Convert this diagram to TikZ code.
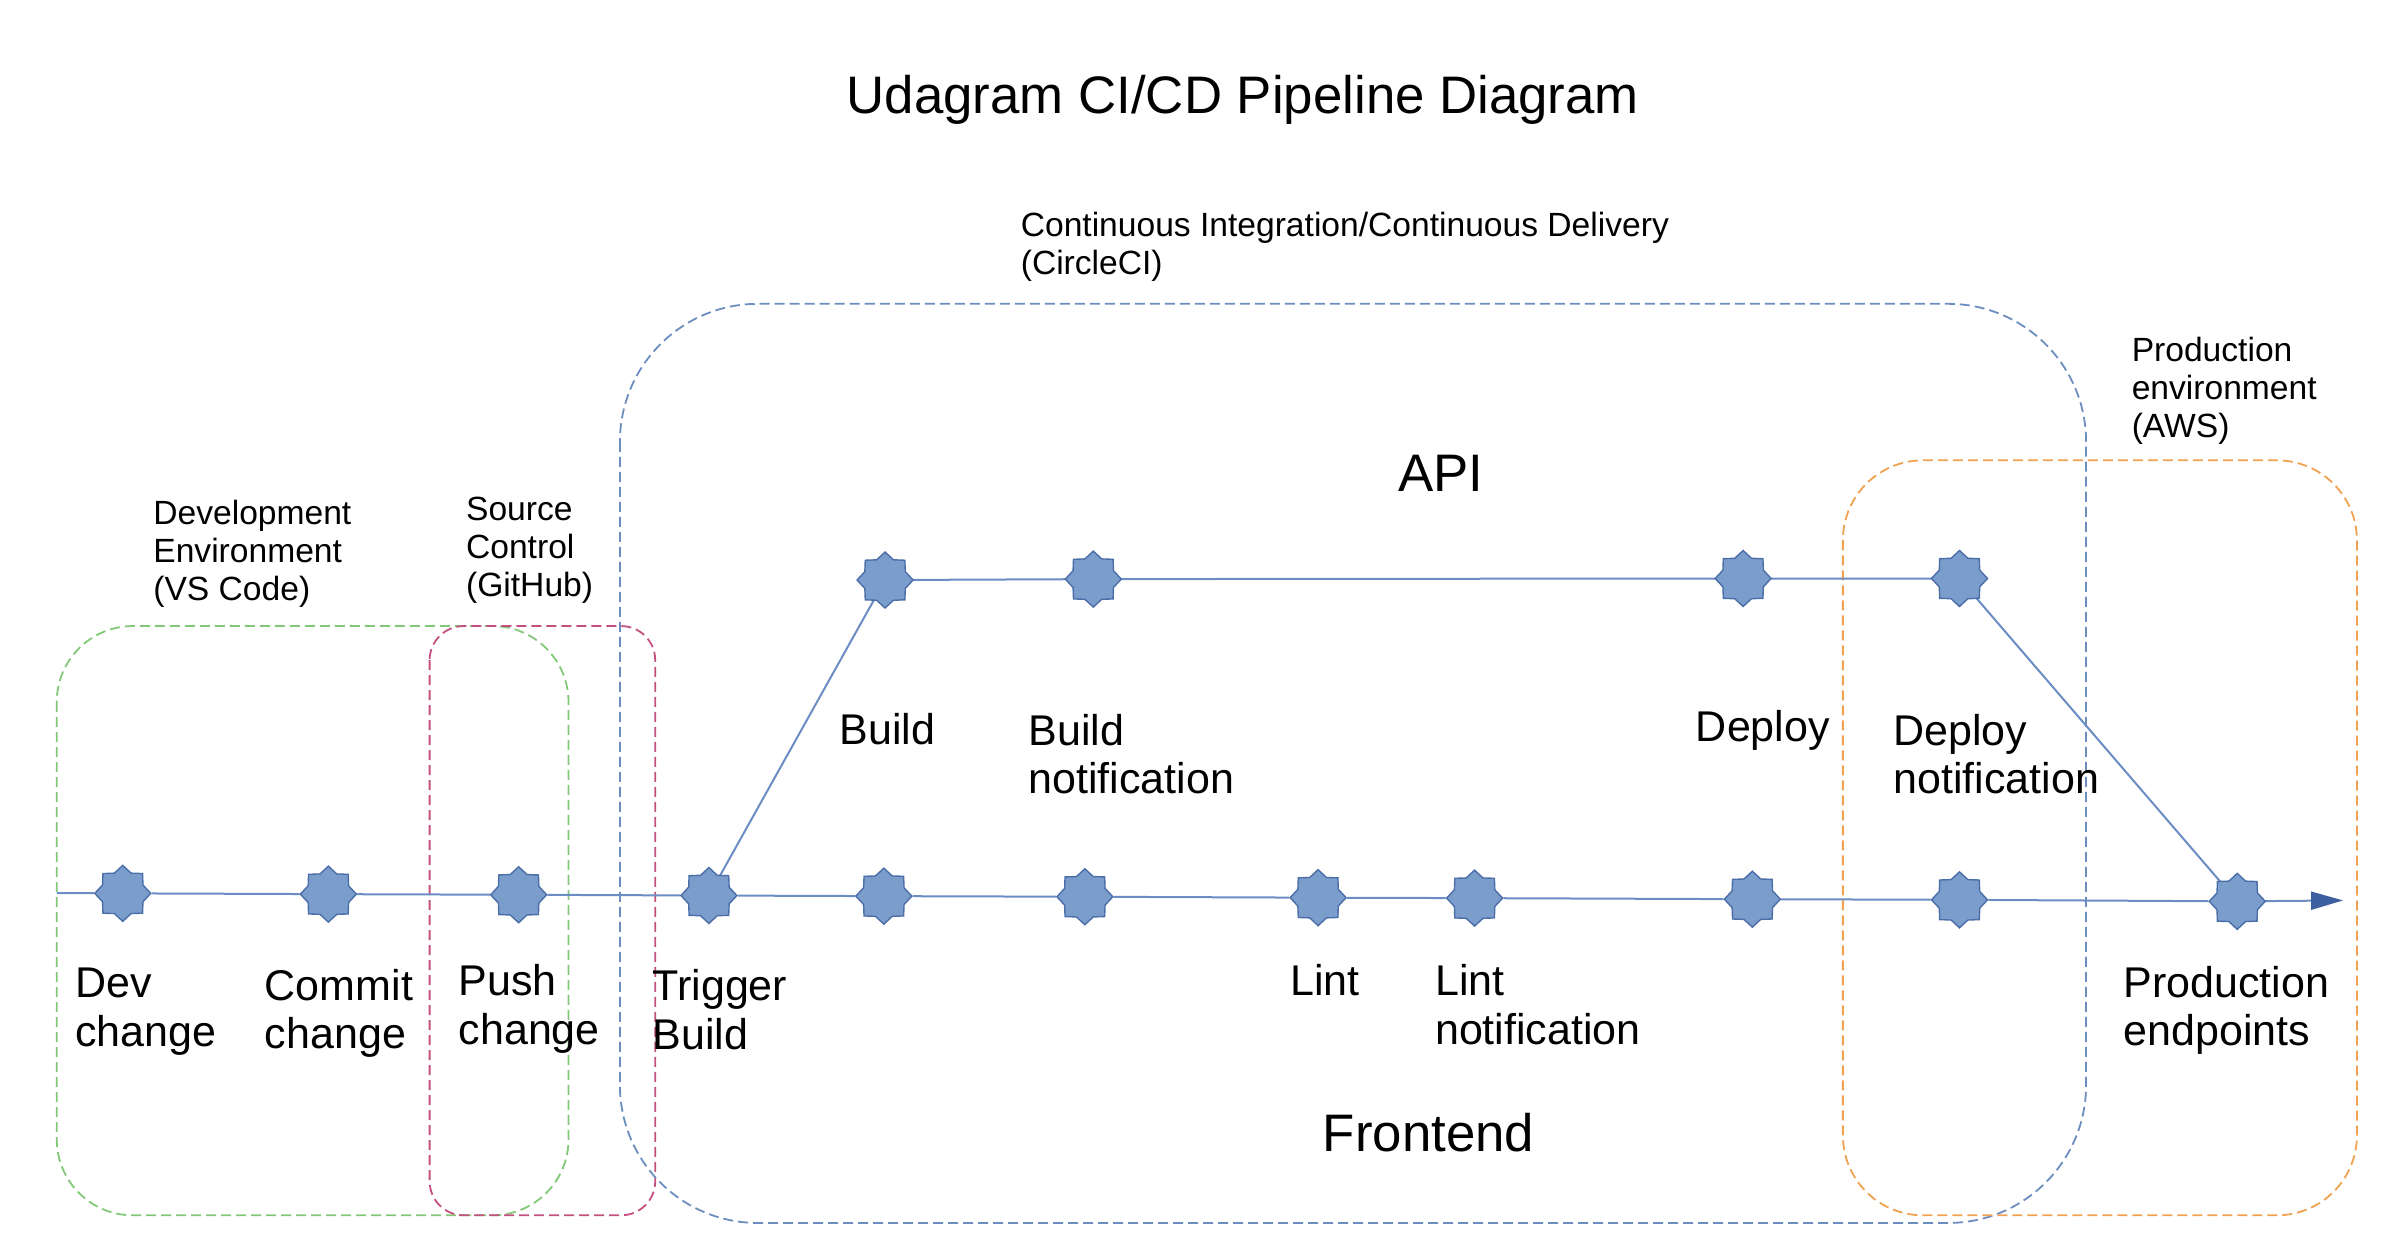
\documentclass[tikz,border=0pt]{standalone}
\usepackage{fontspec}
\setmainfont{Liberation Sans}
\usetikzlibrary{shapes.geometric,arrows.meta,backgrounds}
\definecolor{starfill}{RGB}{122,157,204}
\definecolor{starline}{RGB}{76,110,168}
\definecolor{linkblue}{RGB}{108,140,196}
\definecolor{arrowblue}{RGB}{62,96,160}
\definecolor{devgreen}{RGB}{130,200,120}
\definecolor{srcpink}{RGB}{196,80,128}
\definecolor{ciblue}{RGB}{108,142,191}
\definecolor{awsorange}{RGB}{240,162,80}
\begin{document}
\begin{tikzpicture}[x=0.7672pt,y=-0.7672pt,
  stage/.style={star,star points=8,star point ratio=1.28,minimum size=28pt,inner sep=0pt,fill=starfill,draw=starline,line width=0.7pt},
  lab/.style={font=\fontsize{21.5}{24.3}\selectfont,align=left,inner sep=0pt,anchor=base west},
  grp/.style={font=\fontsize{16.8}{19}\selectfont,align=left,inner sep=0pt,anchor=base west},
  head/.style={font=\fontsize{26.4}{30}\selectfont,inner sep=0pt,anchor=base},
  link/.style={draw=linkblue,line width=1pt},
  zone/.style={dash pattern=on 5pt off 2.5pt,line width=0.9pt}]

\useasboundingbox (0,0) rectangle (1568,821);

% titles and group labels (base = baseline of last line)
\node[head] (title) at (810,74) {Udagram CI/CD Pipeline Diagram};
\node[head] (api) at (939,320.4) {API};
\node[head] (frontend) at (931,750.6) {Frontend};
\node[grp] (cilabel) at (665,178.6) {Continuous Integration/Continuous Delivery\\(CircleCI)};
\node[grp] (awslabel) at (1389,285.2) {Production\\environment\\(AWS)};
\node[grp] (devlabel) at (99.7,391.5) {Development\\Environment\\(VS Code)};
\node[grp] (srclabel) at (303.5,389) {Source\\Control\\(GitHub)};

% main line stages
\coordinate (start) at (37,582);
\node[stage] (dev) at (80,582.2) {};
\node[stage] (commit) at (214,582.7) {};
\node[stage] (push) at (338,583.1) {};
\node[stage] (trigger) at (462,583.6) {};
\node[stage] (fbuild) at (576,584) {};
\node[stage] (fbuildn) at (707,584.4) {};
\node[stage] (lint) at (859,585) {};
\node[stage] (lintn) at (961,585.3) {};
\node[stage] (fdeploy) at (1142,586) {};
\node[stage] (fdeployn) at (1277,586.4) {};
\node[stage] (prod) at (1458,587.4) {};
\coordinate (finish) at (1527,586.8);

% API stages
\node[stage] (abuild) at (576.8,378) {};
\node[stage] (abuildn) at (712.5,377.4) {};
\node[stage] (adeploy) at (1136,377) {};
\node[stage] (adeployn) at (1277,377) {};

% stage labels
\node[lab] (devtxt) at (48.8,681.7) {Dev\\change};
\node[lab] (committxt) at (172.4,683.5) {Commit\\change};
\node[lab] (pushtxt) at (298.7,680.7) {Push\\change};
\node[lab] (triggertxt) at (425,683.7) {Trigger\\Build};
\node[lab] (linttxt) at (840.7,649) {Lint};
\node[lab] (lintntxt) at (935,680.7) {Lint\\notification};
\node[lab] (prodtxt) at (1383.6,681.5) {Production\\endpoints};
\node[lab] (buildtxt) at (547,485.5) {Build};
\node[lab] (buildntxt) at (670,517.2) {Build\\notification};
\node[lab] (deploytxt) at (1105,483.5) {Deploy};
\node[lab] (deployntxt) at (1233.7,517.2) {Deploy\\notification};

\begin{scope}[on background layer]
  % zones
  \draw[zone,draw=devgreen,rounded corners=38pt] (37,408) rectangle (370.5,792);
  \draw[zone,draw=srcpink,rounded corners=17pt] (280,408) rectangle (427,792);
  \draw[zone,draw=ciblue,rounded corners=69pt] (404,198) rectangle (1359.5,797);
  \draw[zone,draw=awsorange,rounded corners=40pt] (1201,300) rectangle (1536,792);
  % connectors
  \draw[link] (start) -- (dev) -- (commit) -- (push) -- (trigger) -- (fbuild) -- (fbuildn)
     -- (lint) -- (lintn) -- (fdeploy) -- (fdeployn) -- (prod);
  \draw[link,-{Triangle[length=16pt,width=9pt,color=arrowblue]}] (prod.center) -- (finish);
  \draw[link] (trigger.center) -- (abuild.center) -- (abuildn.center) -- (adeploy.center)
     -- (adeployn.center) -- (prod.center);
\end{scope}
\end{tikzpicture}
\end{document}
